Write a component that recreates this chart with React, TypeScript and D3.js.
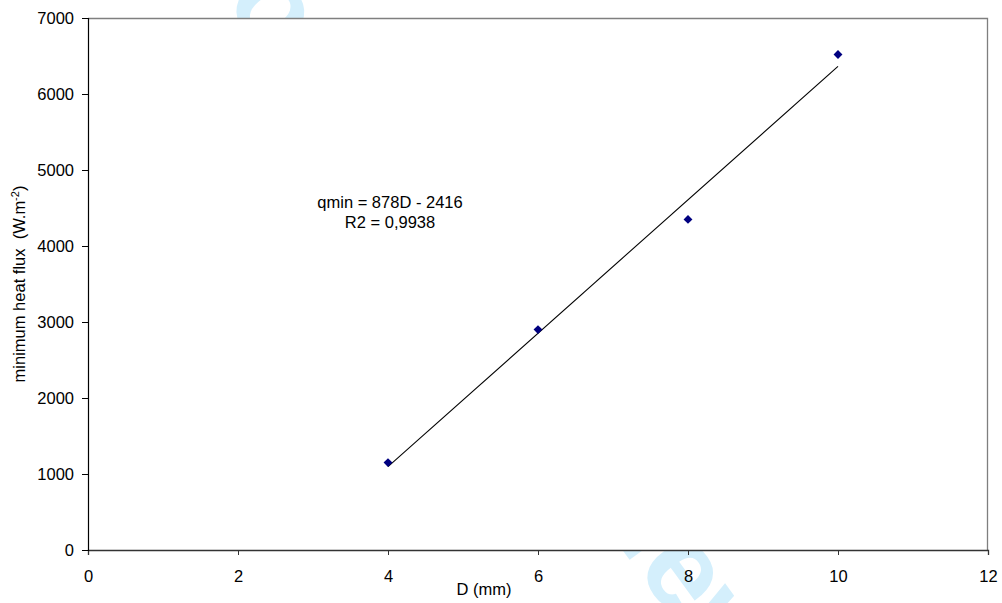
import * as d3 from "d3";
import { useRef, useEffect } from "react";

const diameters = [4, 6, 8, 10];
const qminValues = [1150, 2900, 4350, 6520];
const fitSlope = 878;
const fitIntercept = -2416;
const xTicks = [0, 2, 4, 6, 8, 10, 12];
const yTicks = [0, 1000, 2000, 3000, 4000, 5000, 6000, 7000];
const eqLines = ["qmin = 878D - 2416", "R2 = 0,9938"];

const App = () => {
  const chartRef = useRef<SVGSVGElement | null>(null);

  const width = 1002;
  const height = 603;
  const margin = { top: 18, bottom: 53, left: 88, right: 14 };
  const boundsWidth = width - margin.left - margin.right;
  const boundsHeight = height - margin.top - margin.bottom;
  const font = "'Liberation Sans', Arial, sans-serif";
  const fontSize = "16.5px";

  useEffect(() => {
    const svg = d3.select(chartRef.current);
    svg.selectAll("*").remove();

    const scaleX = d3.scaleLinear().domain([0, 12]).range([0, boundsWidth]);
    const scaleY = d3.scaleLinear().domain([0, 7000]).range([boundsHeight, 0]);

    // filigrane en arriere-plan
    svg
      .append("text")
      .attr("transform", `translate(480, 300) rotate(54)`)
      .attr("text-anchor", "middle")
      .attr("dominant-baseline", "middle")
      .style("font-family", font)
      .style("font-weight", "bold")
      .style("font-size", "120px")
      .style("fill", "#d4effc")
      .text("For Peer Review");

    const g = svg.append("g").attr("transform", `translate(${margin.left}, ${margin.top})`);

    // fond blanc de la zone de trace
    g.append("rect")
      .attr("x", 0)
      .attr("y", 0)
      .attr("width", boundsWidth)
      .attr("height", boundsHeight)
      .style("fill", "white");

    // cadre haut et droite
    g.append("path")
      .attr("d", `M0,0.5H${boundsWidth - 0.5}V${boundsHeight}`)
      .style("fill", "none")
      .style("stroke", "#7f7f7f")
      .style("stroke-width", 1.3);

    // axe X
    const xAxis = g
      .append("g")
      .attr("transform", `translate(0, ${boundsHeight})`)
      .call(d3.axisBottom(scaleX).tickValues(xTicks).tickSize(5).tickPadding(15));
    xAxis.select(".domain").attr("stroke", "#333").attr("stroke-width", 1.3);
    xAxis.selectAll(".tick line").attr("stroke", "#333");
    xAxis.selectAll("text").style("font-family", font).style("font-size", fontSize).attr("fill", "#000");

    // axe Y
    const yAxis = g
      .append("g")
      .call(d3.axisLeft(scaleY).tickValues(yTicks).tickFormat(d3.format("d")).tickSize(6).tickPadding(8));
    yAxis.select(".domain").attr("stroke", "#000").attr("stroke-width", 1.2);
    yAxis.selectAll("text").style("font-family", font).style("font-size", fontSize).attr("fill", "#000");

    // droite de regression
    const [x0, x1] = d3.extent(diameters) as [number, number];
    g.append("line")
      .attr("x1", scaleX(x0))
      .attr("y1", scaleY(fitSlope * x0 + fitIntercept))
      .attr("x2", scaleX(x1))
      .attr("y2", scaleY(fitSlope * x1 + fitIntercept))
      .style("stroke", "#000")
      .style("stroke-width", 1.1);

    // points (losanges)
    g.selectAll(".pt")
      .data(diameters)
      .enter()
      .append("path")
      .attr("class", "pt")
      .attr("d", d3.symbol(d3.symbolDiamond2, 50)())
      .attr("transform", (d, i) => `translate(${scaleX(d)}, ${scaleY(qminValues[i])})`)
      .style("fill", "#000080");

    // equation
    g.selectAll(".eq")
      .data(eqLines)
      .enter()
      .append("text")
      .attr("x", 302)
      .attr("y", (d, i) => 190 + i * 20)
      .attr("text-anchor", "middle")
      .style("font-family", font)
      .style("font-size", fontSize)
      .text((d) => d);

    // titres des axes
    svg
      .append("text")
      .attr("x", 484)
      .attr("y", 595)
      .attr("text-anchor", "middle")
      .style("font-family", font)
      .style("font-size", fontSize)
      .text("D (mm)");

    const yLabel = svg
      .append("text")
      .attr("transform", `translate(25, ${margin.top + boundsHeight / 2}) rotate(-90)`)
      .attr("text-anchor", "middle")
      .style("font-family", font)
      .style("font-size", "16.5px")
      .attr("xml:space", "preserve");
    yLabel.append("tspan").text("minimum heat flux  (W.m");
    yLabel.append("tspan").attr("dy", -6).style("font-size", "11px").text("-2");
    yLabel.append("tspan").attr("dy", 6).text(")");
  }, []);

  return (
    <svg
      ref={chartRef}
      width={width}
      height={height}
      style={{ position: "absolute", left: 0, top: 0, display: "block", background: "white" }}
    ></svg>
  );
};

export default App;
